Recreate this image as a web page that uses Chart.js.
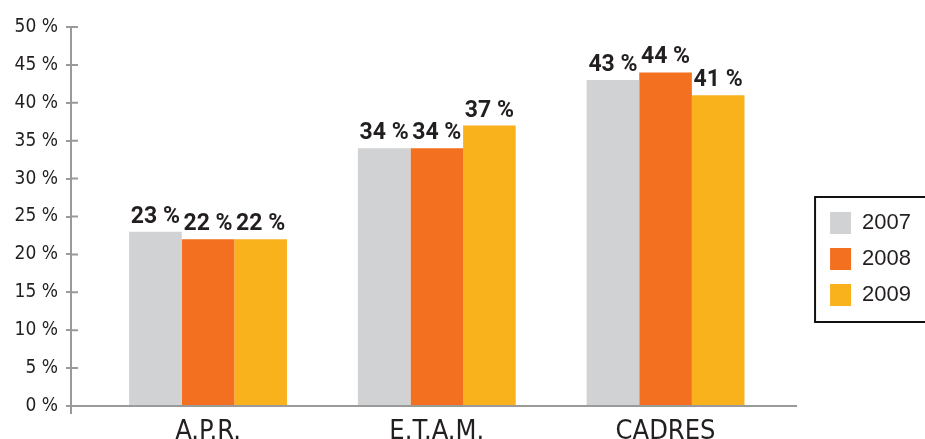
<!DOCTYPE html>
<html>
<head>
<meta charset="utf-8">
<script src="https://cdn.jsdelivr.net/npm/chart.js@4.4.1/dist/chart.umd.min.js"></script>
<style>
    html, body { margin: 0; padding: 0; background: #fff; }
    #wrap { width: 925px; height: 439px; }
</style>
</head>
<body>
<div id="wrap"><canvas id="personnel-chart"></canvas></div>
<script>
const categories = ['A.P.R.', 'E.T.A.M.', 'CADRES']
const years = ['2007', '2008', '2009']
const values_2007 = [23, 34, 43]
const values_2008 = [22, 34, 44]
const values_2009 = [22, 37, 41]
const y_ticks = [0, 5, 10, 15, 20, 25, 30, 35, 40, 45, 50]

const narrow = "'DejaVu Sans Condensed', 'Liberation Sans Narrow', sans-serif"
const regular = "'Liberation Sans', Arial, sans-serif"
const ink = '#231f20'
const axis_grey = '#9a9a9a'

function to_points(values) {
    return values.map((v, i) => ({x: i + 1, y: v}))
}

// value written above every bar
const bar_values = {
    id: 'bar_values',
    afterDatasetsDraw(chart) {
        let ctx = chart.ctx
        ctx.save()
        ctx.font = 'bold 23px Roboto, ' + narrow
        ctx.fillStyle = ink
        ctx.textAlign = 'center'
        ctx.textBaseline = 'alphabetic'
        chart.data.datasets.forEach((ds, i) => {
            chart.getDatasetMeta(i).data.forEach((bar, j) => {
                ctx.fillText(ds.data[j].y + ' %', bar.x, bar.y - 9)
            })
        })
        ctx.restore()
    }
}

// ticks crossing the y axis, and the axis running a bit under 0
const axis_marks = {
    id: 'axis_marks',
    afterDraw(chart) {
        let y = chart.scales.y
        let ctx = chart.ctx
        ctx.save()
        ctx.strokeStyle = axis_grey
        ctx.lineWidth = 2
        ctx.beginPath()
        y.ticks.forEach(t => {
            let py = y.getPixelForValue(t.value)
            ctx.moveTo(y.right, py)
            ctx.lineTo(y.right + 7, py)
        })
        ctx.moveTo(y.right, y.bottom)
        ctx.lineTo(y.right, y.bottom + 8)
        ctx.stroke()
        ctx.restore()
    }
}

// black frame round the legend
const legend_frame = {
    id: 'legend_frame',
    afterDraw(chart) {
        let boxes = chart.legend.legendHitBoxes
        if (!boxes || !boxes.length) return
        let first = boxes[0]
        let last = boxes[boxes.length - 1]
        let ctx = chart.ctx
        ctx.save()
        ctx.strokeStyle = '#111'
        ctx.lineWidth = 2
        let top = first.top - 15
        ctx.strokeRect(first.left - 15, top, chart.width, last.top + last.height + 16 - top)
        ctx.restore()
    }
}

const data = {
    datasets: [
        {label: years[0], data: to_points(values_2007), backgroundColor: '#d1d2d4'},
        {label: years[1], data: to_points(values_2008), backgroundColor: '#f37021'},
        {label: years[2], data: to_points(values_2009), backgroundColor: '#f9b21b'},
    ]
}

const config = {
    type: 'bar',
    data: data,
    options: {
        responsive: true,
        maintainAspectRatio: false,
        animation: false,
        categoryPercentage: 0.69,
        barPercentage: 1,
        layout: {padding: {top: 27, right: 4, bottom: -18, left: 0}},
        scales: {
            x: {
                type: 'linear',
                min: 0.401,
                max: 3.5705,
                offset: false,
                afterBuildTicks: s => { s.ticks = categories.map((c, i) => ({value: i + 1})) },
                ticks: {
                    callback: v => categories[v - 1],
                    font: {family: narrow, size: 27, lineHeight: 1},
                    color: ink,
                    padding: 12,
                    autoSkip: false,
                    maxRotation: 0
                },
                grid: {display: false, drawTicks: false},
                border: {color: axis_grey, width: 2}
            },
            y: {
                min: 0,
                max: 50,
                afterBuildTicks: s => { s.ticks = y_ticks.map(v => ({value: v})) },
                ticks: {
                    callback: v => v + ' %',
                    font: {family: narrow, size: 19},
                    color: ink,
                    padding: 8
                },
                grid: {drawOnChartArea: false, tickLength: 5, color: axis_grey, lineWidth: 2},
                border: {color: axis_grey, width: 2},
                afterFit: s => { s.width = 71 }
            },
            gap: {
                position: 'right',
                display: true,
                grid: {display: false},
                border: {display: false},
                ticks: {display: false},
                afterFit: s => { s.width = 20 }
            }
        },
        plugins: {
            tooltip: {enabled: false},
            legend: {
                position: 'right',
                title: {display: true, text: ' ', padding: {top: 33, bottom: 0}, font: {size: 1, lineHeight: 1}},
                labels: {
                    boxWidth: 21,
                    boxHeight: 22,
                    padding: 14,
                    color: ink,
                    font: {family: regular, size: 22}
                }
            }
        }
    },
    plugins: [bar_values, axis_marks, legend_frame]
}

let crt = new Chart(document.querySelector('#personnel-chart'), config)
</script>
</body>
</html>
